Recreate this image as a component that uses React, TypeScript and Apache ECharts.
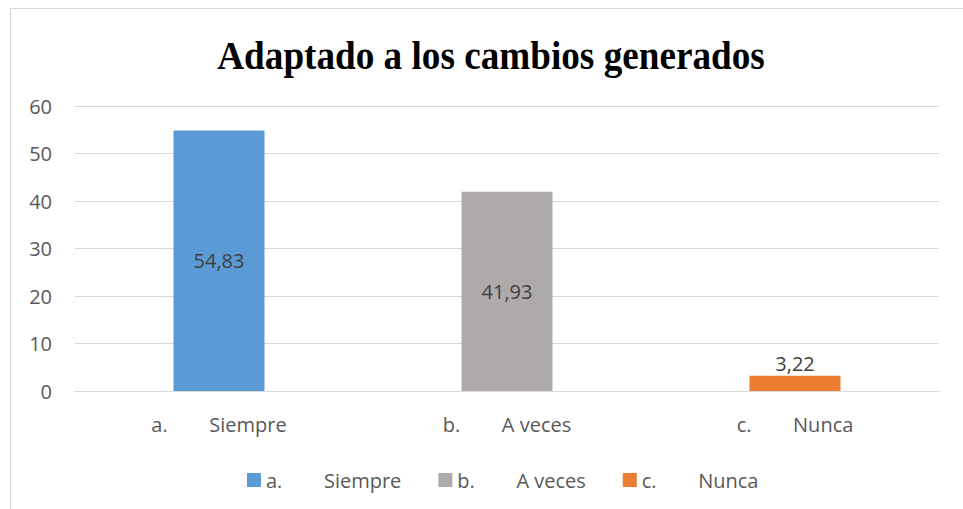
import React, { useEffect, useRef } from "react";
import * as echarts from "echarts";

const titleText = "Adaptado a los cambios generados";
const categories = ["a.        Siempre", "b.        A veces", "c.        Nunca"];
const values = [54.83, 41.93, 3.22];
const labels = ["54,83", "41,93", "3,22"];
const colors = ["#5B9BD5", "#ADAAA9", "#ED7D31"];
const yTicks = [0, 10, 20, 30, 40, 50, 60];

export default function App() {
  const ref = useRef<HTMLDivElement>(null);
  useEffect(() => {
    document.body.style.margin = "0";
    const chart = echarts.init(ref.current!, null, { renderer: "svg" });
    const font = "'Open Sans', Lato, sans-serif";
    chart.setOption({
      animation: false,
      backgroundColor: "#fff",
      graphic: [
        { type: "rect", shape: { x: 10.5, y: 8.5, width: 980, height: 520 }, style: { fill: "none", stroke: "#d9d9d9", lineWidth: 1 } },
        {
          type: "text",
          x: 491,
          y: 56,
          scaleX: 0.93,
          style: {
            text: titleText,
            fontFamily: "'Liberation Serif', 'Times New Roman', serif",
            fontWeight: "bold",
            fontSize: 40,
            fill: "#000",
            align: "center",
            verticalAlign: "middle",
          },
        },
      ],
      legend: {
        left: 242,
        top: 465,
        itemWidth: 14,
        itemHeight: 14,
        itemGap: 37,
        icon: "rect",
        textStyle: { fontFamily: font, fontSize: 20, lineHeight: 20, color: "#595959" },
        data: categories,
      },
      grid: { left: 75, right: 24, top: 106, bottom: 118, containLabel: false },
      xAxis: {
        type: "category",
        data: categories,
        axisLine: { lineStyle: { color: "#d9d9d9", width: 1 } },
        axisTick: { show: false },
        axisLabel: { fontFamily: font, fontSize: 20, color: "#595959", margin: 23 },
      },
      yAxis: {
        type: "value",
        min: yTicks[0],
        max: yTicks[yTicks.length - 1],
        interval: 10,
        axisLine: { show: false },
        axisTick: { show: false },
        splitLine: { lineStyle: { color: "#d9d9d9", width: 1 } },
        axisLabel: { fontFamily: font, fontSize: 20, color: "#595959", margin: 23 },
      },
      series: categories.map((name, i) => ({
        name,
        type: "bar",
        stack: "all",
        barWidth: 91,
        itemStyle: { color: colors[i] },
        data: categories.map((_, j) => (j === i ? values[i] : "-")),
        label: {
          show: true,
          position: i === 2 ? "top" : "inside",
          distance: 2,
          formatter: () => labels[i],
          fontFamily: font,
          fontSize: 20,
          color: "#404040",
        },
      })),
    });
    return () => chart.dispose();
  }, []);
  return <div ref={ref} style={{ width: 963, height: 509 }} />;
}
